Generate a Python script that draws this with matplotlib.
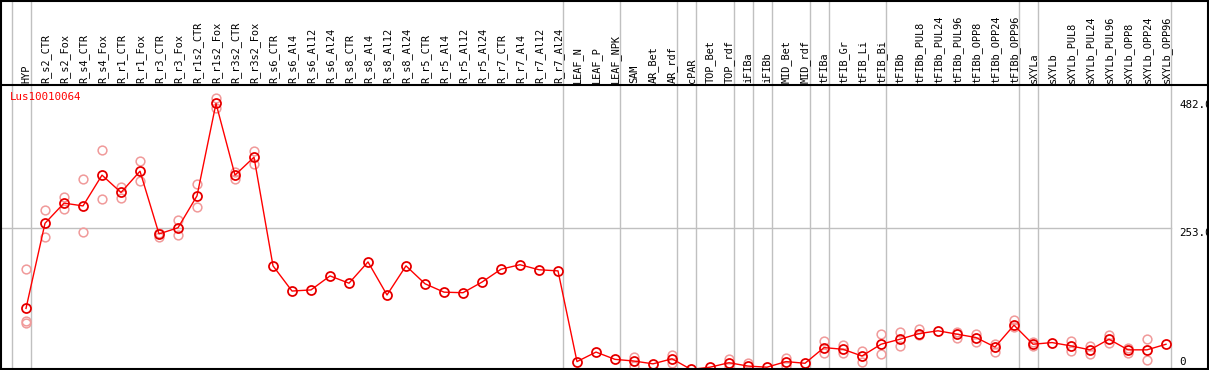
import matplotlib
matplotlib.use("Agg")
import matplotlib.pyplot as plt
from matplotlib.patches import Rectangle

# ---- data --------------------------------------------------------------------
gene = "Lus10010064"

samples = ["HYP", "R_s2_CTR", "R_s2_Fox", "R_s4_CTR", "R_s4_Fox", "R_r1_CTR",
           "R_r1_Fox", "R_r3_CTR", "R_r3_Fox", "R_r1s2_CTR", "R_r1s2_Fox",
           "R_r3s2_CTR", "R_r3s2_Fox", "R_s6_CTR", "R_s6_Al4", "R_s6_Al12",
           "R_s6_Al24", "R_s8_CTR", "R_s8_Al4", "R_s8_Al12", "R_s8_Al24",
           "R_r5_CTR", "R_r5_Al4", "R_r5_Al12", "R_r5_Al24", "R_r7_CTR",
           "R_r7_Al4", "R_r7_Al12", "R_r7_Al24", "LEAF_N", "LEAF_P", "LEAF_NPK",
           "SAM", "AR_Bet", "AR_rdf", "cPAR", "TOP_Bet", "TOP_rdf", "iFIBa",
           "iFIBb", "MID_Bet", "MID_rdf", "tFIBa", "tFIB_Gr", "tFIB_Li",
           "tFIB_Bi", "tFIBb", "tFIBb_PUL8", "tFIBb_PUL24", "tFIBb_PUL96",
           "tFIBb_OPP8", "tFIBb_OPP24", "tFIBb_OPP96", "sXYLa", "sXYLb",
           "sXYLb_PUL8", "sXYLb_PUL24", "sXYLb_PUL96", "sXYLb_OPP8",
           "sXYLb_OPP24", "sXYLb_OPP96"]

means = [110, 262, 298, 293, 348, 317, 355, 243, 254, 311, 476, 348, 380,
         186, 141, 143, 168, 155, 193, 134, 186, 154, 139, 138, 157, 180, 188,
         179, 177, 15,
         32, 19, 16, 11, 20, 1, 5, 13, 7, 5, 15, 12, 40, 37, 25, 46, 55,
         65, 70, 64, 58, 41, 80, 46, 49, 43, 36, 55, 36, 36, 46]

reps = [[180, 88, 84], [286, 237], [309, 287], [341, 246], [393, 305],
        [326, 308], [373, 338], [245, 238], [267, 241], [332, 291],
        [485, 467], [354, 341], [391, 367],
        [], [], [], [], [], [], [], [], [], [], [], [], [], [], [], [], [],
        [], [], [23, 7], [], [26, 13], [], [], [20, 6], [13], [], [21, 8], [],
        [51, 31], [45, 31], [34, 14], [65, 28], [68, 43],
        [73, 62], [], [68, 58], [65, 50], [46, 33], [89, 77], [50, 43], [],
        [51, 34], [43, 29], [62, 49], [40, 31], [55, 18], []]

# group separators sit just right of these sample indices
group_ends = [-1, 0, 28, 31, 34, 35, 37, 38, 39, 41, 42, 45, 52, 53, 60]
ref_line = 253.0
top_label = 482.0
# ------------------------------------------------------------------------------

W, H = 1209, 370
fig = plt.figure(figsize=(W / 100, H / 100), dpi=100)
fig.patch.set_facecolor("white")

head_px = 85
xlim = (-26 / 19, (W - 26) / 19)
mono = "DejaVu Sans Mono"
fs = 7.4

axh = fig.add_axes([0, 1 - head_px / H, 1, head_px / H])
ax = fig.add_axes([0, 0, 1, 1 - head_px / H])

for a in (axh, ax):
    a.set_xlim(*xlim)
    a.set_xticks([])
    a.set_yticks([])
    for s in a.spines.values():
        s.set_visible(False)
    for g in group_ends:
        a.axvline(g + 0.25, color="#c0c0c0", lw=1, zorder=0)

axh.set_ylim(0, head_px)
for i, name in enumerate(samples):
    axh.text(i + 0.03, 2, name, rotation=90, ha="center", va="bottom",
             family=mono, fontsize=fs, color="black")

ax.set_ylim(0, (H - head_px) / 0.56)
ax.plot([xlim[0], group_ends[-1] + 0.25], [ref_line, ref_line],
        color="#c0c0c0", lw=1, zorder=0)

# replicates
for i, r in enumerate(reps):
    if r:
        ax.plot([i] * len(r), r, "o", ms=6.3, mfc="none", mec="#f09a9a",
                mew=1.1, zorder=2)

ax.plot(range(len(means)), means, "-", color="red", lw=1, zorder=3)
ax.plot(range(len(means)), means, "o", ms=6.5, mfc="none", mec="red",
        mew=1.3, zorder=4)
ax.plot(range(len(means)), means, "o", ms=6.5, mfc="none", mec="black",
        mew=0.25, alpha=0.45, zorder=5)

ax.text(10 / W, 1 - 11.7 / (H - head_px), gene, transform=ax.transAxes,
        ha="left", va="center", family=mono, fontsize=fs + 0.4, color="red")

xr = (1179 - 26) / 19
ax.text(xr, top_label, f"{top_label:.1f}", ha="left", va="top",
        family=mono, fontsize=fs + 0.4)
ax.text(xr, ref_line, f"{ref_line:.1f}", ha="left", va="top",
        family=mono, fontsize=fs + 0.4)
ax.annotate("0", xy=(xr, 0), xytext=(0, 3), textcoords="offset pixels",
            ha="left", va="bottom", family=mono, fontsize=fs + 0.4)

# frame and header separator
fig.add_artist(plt.Line2D([0, 1], [1 - head_px / H] * 2, color="black",
                          lw=1.5, transform=fig.transFigure))
fig.add_artist(Rectangle((1 / W, 1 / H), (W - 2.5) / W, (H - 2) / H,
                         fill=False, ec="black", lw=1.5,
                         transform=fig.transFigure))

fig.savefig("out.png", dpi=100)
